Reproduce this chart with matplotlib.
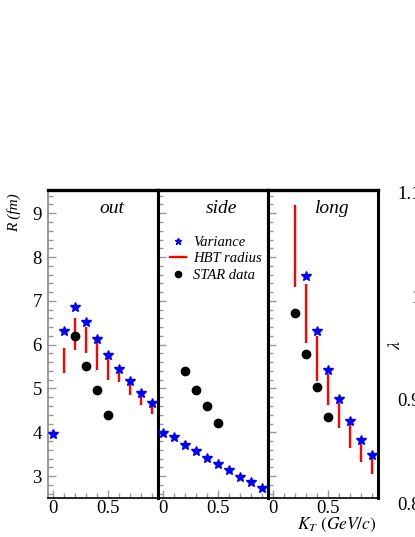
import matplotlib
matplotlib.use("Agg")
import matplotlib.pyplot as plt
from matplotlib.lines import Line2D

plt.rcParams["font.family"] = ["Liberation Serif", "DejaVu Serif"]
plt.rcParams["mathtext.fontset"] = "stix"

# k_T bins (GeV/c)
kt = [0.0, 0.1, 0.2, 0.3, 0.4, 0.5, 0.6, 0.7, 0.8, 0.9]
kt_star = [0.2, 0.3, 0.4, 0.5]

# "Variance" (blue stars)
var_out = [3.96, 6.31, 6.85, 6.51, 6.14, 5.76, 5.44, 5.17, 4.89, 4.67]
var_side = [3.98, 3.89, 3.72, 3.58, 3.42, 3.27, 3.13, 2.99, 2.86, 2.72]
kt_var_long = [0.3, 0.4, 0.5, 0.6, 0.7, 0.8, 0.9]
var_long = [7.56, 6.31, 5.42, 4.76, 4.26, 3.83, 3.48]

# "HBT radius" (red vertical bands, low/high)
hbt_out_lo = [3.96, 5.35, 5.87, 5.82, 5.42, 5.20, 5.14, 4.85, 4.62, 4.42]
hbt_out_hi = [4.05, 5.93, 6.60, 6.40, 6.06, 5.76, 5.42, 5.17, 4.89, 4.67]
hbt_side_lo = [3.92, 3.85, 3.63, 3.53, 3.40, 3.25, 3.11, 2.97, 2.84, 2.70]
hbt_side_hi = [4.06, 3.92, 3.79, 3.65, 3.45, 3.30, 3.15, 3.01, 2.88, 2.74]
kt_hbt_long = [0.2, 0.3, 0.4, 0.5, 0.6, 0.7, 0.8, 0.9]
hbt_long_lo = [7.31, 6.04, 5.17, 4.62, 4.09, 3.64, 3.33, 3.05]
hbt_long_hi = [9.19, 7.39, 6.19, 5.34, 4.67, 4.19, 3.77, 3.42]

# STAR data (black dots)
star_out = [6.20, 5.52, 4.97, 4.40]
star_side = [5.40, 4.96, 4.61, 4.22]
star_long = [6.72, 5.78, 5.04, 4.34]

W, H = 415, 537
fig = plt.figure(figsize=(W / 100, H / 100), dpi=100)

panels = [
    ("out", kt, var_out, kt, hbt_out_lo, hbt_out_hi, star_out),
    ("side", kt, var_side, kt, hbt_side_lo, hbt_side_hi, star_side),
    ("long", kt_var_long, var_long, kt_hbt_long, hbt_long_lo, hbt_long_hi, star_long),
]

left0, pw, top, bot = 48, 110, 190, 498
axes = []
for i, (name, xv, yv, xh, lo, hi, st) in enumerate(panels):
    ax = fig.add_axes([(left0 + i * pw) / W, (H - bot) / H, pw / W, (bot - top) / H])
    ax.vlines(xh, lo, hi, color="#ff0000", lw=1.7, zorder=2)
    ax.plot(xv, yv, ls="none", marker="*", ms=7.5, color="#0000ff", zorder=3)
    ax.plot(kt_star, st, ls="none", marker="o", ms=6, color="black", zorder=4)
    ax.set_xlim(-0.045, 0.955)
    ax.set_ylim(2.5, 9.53)
    ax.set_xticks([0, 0.5])
    ax.set_xticklabels(["0", "0.5"])
    ax.set_xticks([0.1 * k for k in range(10)], minor=True)
    ax.set_yticks(range(3, 10))
    ax.set_yticks([2.6 + 0.2 * k for k in range(35)], minor=True)
    ax.tick_params(which="both", direction="in", color="#999999", labelsize=13.5)
    ax.tick_params(which="major", length=6, width=1)
    ax.tick_params(which="minor", length=3.5, width=1)
    ax.tick_params(axis="x", pad=1.5)
    ax.tick_params(axis="y", pad=4.5)
    if i > 0:
        ax.tick_params(axis="y", labelleft=False)
    ax.spines["top"].set_linewidth(2.4)
    ax.spines["top"].set_color("black")
    ax.spines["right"].set_linewidth(2.2)
    ax.spines["right"].set_color("black")
    ax.spines["left"].set_linewidth(2.2 if i > 0 else 1.2)
    ax.spines["left"].set_color("black" if i > 0 else "#888888")
    ax.spines["bottom"].set_linewidth(1.2)
    ax.text(0.58, 0.925, name, transform=ax.transAxes, ha="center",
            va="baseline", fontsize=14, style="italic")
    axes.append(ax)

# legend in the side panel
handles = [
    Line2D([], [], ls="none", marker="*", ms=5, color="#0000ff"),
    Line2D([], [], color="#ff0000", lw=1.7),
    Line2D([], [], ls="none", marker="o", ms=4.5, color="black"),
]
axes[1].legend(handles, ["Variance", "HBT radius", "STAR data"], frameon=False,
               loc="upper left", bbox_to_anchor=(0.06, 0.87), handlelength=1.1,
               handletextpad=0.45, labelspacing=0.22, borderaxespad=0,
               prop={"style": "italic", "size": 10.5})

# lambda panel, mostly outside the picture
axl = fig.add_axes([425 / W, (H - 503) / H, 100 / W, 310 / H])
axl.set_ylim(0.8, 1.1)
axl.set_yticks([0.8, 0.9, 1.0, 1.1])
axl.set_yticklabels(["0.8", "0.9", "1", "1.1"])
axl.set_xticks([])
axl.tick_params(axis="y", direction="in", color="#999999", labelsize=13.5, pad=3)
for s in axl.spines.values():
    s.set_visible(False)
fig.text(395 / W, (H - 345) / H, r"$\lambda$", rotation=90, ha="center",
         va="center", fontsize=13)

fig.text(14 / W, (H - 213) / H, "R (fm)", rotation=90, ha="center",
         va="center", fontsize=11, style="italic")
fig.text(377 / W, (H - 525) / H, r"$K_T\ (GeV/c)$", ha="right", va="center",
         fontsize=12.5)

fig.savefig("out.png", dpi=100)
